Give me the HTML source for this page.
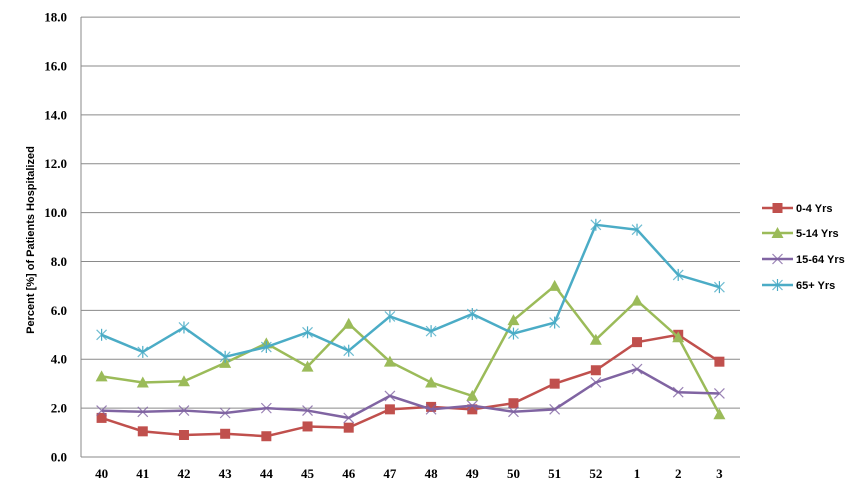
<!DOCTYPE html>
<html><head><meta charset="utf-8"><style>
body{margin:0;background:#fff;}
svg{display:block;font-family:"Liberation Sans",sans-serif;}
</style></head><body>
<svg id="c" width="865" height="495" xmlns="http://www.w3.org/2000/svg"></svg>
<script>
const s=document.getElementById('c');let h='';
const L=81,R=740,B=457,k=24.44,dx=(R-L)/16;
const X=i=>L+dx/2+i*dx, Y=v=>B-v*k;
for(let i=0;i<=9;i++){const y=Y(i*2);
 if(i>0)h+=`<line x1="${L}" y1="${y}" x2="${R}" y2="${y}" stroke="#8a8a8a" stroke-width="1"/>`;
 h+=`<text x="67" y="${y+4.5}" text-anchor="end" font-family="Liberation Serif,serif" font-size="13" font-weight="bold">${(i*2).toFixed(1)}</text>`;}
h+=`<line x1="${L}" y1="17" x2="${L}" y2="${B}" stroke="#8a8a8a"/><line x1="${L}" y1="${B}" x2="${R}" y2="${B}" stroke="#8a8a8a"/>`;
const cats=[40,41,42,43,44,45,46,47,48,49,50,51,52,1,2,3];
cats.forEach((c,i)=>h+=`<text x="${X(i)}" y="478" text-anchor="middle" font-family="Liberation Serif,serif" font-size="13" font-weight="bold">${c}</text>`);
h+=`<text transform="translate(34,240) rotate(-90)" text-anchor="middle" font-size="11" font-weight="bold">Percent [%] of Patients Hospitalized</text>`;
const S=[
{c:'#c0504d',m:'sq',d:[1.6,1.05,0.9,0.95,0.85,1.25,1.2,1.95,2.05,1.95,2.2,3.0,3.55,4.7,5.0,3.9],n:'0-4 Yrs'},
{c:'#9bbb59',m:'tri',d:[3.3,3.05,3.1,3.85,4.65,3.7,5.45,3.9,3.05,2.5,5.6,7.0,4.8,6.4,4.9,1.75],n:'5-14 Yrs'},
{c:'#8064a2',m:'x',d:[1.9,1.85,1.9,1.8,2.0,1.9,1.6,2.5,1.95,2.1,1.85,1.95,3.05,3.6,2.65,2.6],n:'15-64 Yrs'},
{c:'#4bacc6',m:'star',d:[5.0,4.3,5.3,4.1,4.5,5.1,4.35,5.75,5.15,5.85,5.05,5.5,9.5,9.3,7.45,6.95],n:'65+ Yrs'}];
function mk(m,x,y,c){
 if(m=='sq')return `<rect x="${x-5}" y="${y-5}" width="10" height="10" fill="${c}"/>`;
 if(m=='tri')return `<polygon points="${x},${y-6} ${x+6},${y+5} ${x-6},${y+5}" fill="${c}"/>`;
 let r=`<path d="M${x-5} ${y-5}L${x+5} ${y+5}M${x-5} ${y+5}L${x+5} ${y-5}" stroke="${c}" stroke-width="1.2" opacity="0.8"/>`;
 if(m=='star')r+=`<path d="M${x} ${y-6}V${y+6}" stroke="${c}" stroke-width="1.2"/>`;
 return r;}
S.forEach((sr,j)=>{
 h+=`<polyline fill="none" stroke="${sr.c}" stroke-width="2.5" points="${sr.d.map((v,i)=>X(i)+','+Y(v)).join(' ')}"/>`;
 sr.d.forEach((v,i)=>h+=mk(sr.m,X(i),Y(v),sr.c));
 const ly=[208,233,259,285][j];
 h+=`<line x1="762" y1="${ly}" x2="793" y2="${ly}" stroke="${sr.c}" stroke-width="2.5"/>`+mk(sr.m,777.5,ly,sr.c);
 h+=`<text x="796" y="${ly+4}" font-size="11" font-weight="bold">${sr.n}</text>`;
});
s.innerHTML=h;
</script>
</body></html>
